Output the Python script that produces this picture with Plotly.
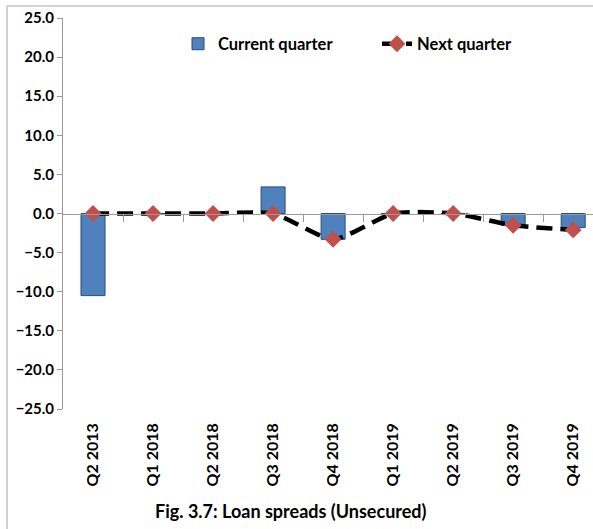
import plotly.graph_objects as go

quarters = ["Q2 2013", "Q1 2018", "Q2 2018", "Q3 2018", "Q4 2018",
            "Q1 2019", "Q2 2019", "Q3 2019", "Q4 2019"]
current_quarter = [-10.5, 0.0, 0.0, 3.4, -3.3, 0.0, 0.0, -1.5, -1.8]
next_quarter = [0.0, 0.0, 0.0, 0.0, -3.3, 0.0, 0.0, -1.5, -2.1]

FONT = "Lato"
BLACK = "#000000"
GREY = "#9A9A9A"

fig = go.Figure()
fig.add_trace(go.Bar(
    x=quarters, y=current_quarter, name="Current quarter",
    marker=dict(color="#4F81BD", line=dict(color="#2C4D75", width=1)),
    width=0.4,
))
fig.add_trace(go.Scatter(
    x=quarters, y=next_quarter, name="Next quarter", mode="lines+markers",
    xaxis="x2",
    line=dict(color=BLACK, width=4.5, dash="16px,8px", shape="spline", smoothing=0.6),
    marker=dict(symbol="diamond", size=13, color="#C0504D"),
))

# plot area pixels: x 63..593, y 18..409
def px_x(p):
    return (p - 63) / 530

def px_y(p):
    return (409 - p) / 391

fig.update_layout(
    width=593, height=529,
    margin=dict(l=63, r=0, t=18, b=120),
    paper_bgcolor="white", plot_bgcolor="white",
    font=dict(family=FONT, size=14, color=BLACK),
    showlegend=True,
    legend=dict(orientation="h", x=px_x(178), y=px_y(44), xanchor="left", yanchor="middle",
                font=dict(family=FONT, size=16.5, color=BLACK, weight="bold"),
                entrywidth=154, entrywidthmode="pixels",
                bgcolor="rgba(0,0,0,0)", traceorder="normal"),
    xaxis=dict(
        type="category", categoryarray=quarters, range=[-0.5, 8.33],
        showline=False, ticks="", showgrid=False, zeroline=False, tickangle=-90,
        ticklabelstandoff=10,
        tickfont=dict(family=FONT, size=16, color=BLACK, weight="bold"),
    ),
    xaxis2=dict(
        type="category", categoryarray=quarters, overlaying="x", anchor="free",
        position=0.5, range=[-0.5, 8.33],
        tickmode="array", tickvals=[i + 0.5 for i in range(8)],
        showticklabels=False, ticks="outside", ticklen=7, tickwidth=1, tickcolor=GREY,
        showline=True, linecolor=GREY, linewidth=1, showgrid=False, zeroline=False,
    ),
    yaxis=dict(
        range=[-25, 25], dtick=5, tickformat=".1f", ticks="outside", ticklen=5,
        tickcolor=GREY, showline=True, linecolor=GREY, linewidth=1,
        showgrid=False, zeroline=False,
        tickfont=dict(family=FONT, size=15, color=BLACK, weight="bold"),
    ),
    shapes=[
        dict(type="line", xref="paper", yref="paper", x0=px_x(7), x1=px_x(593),
             y0=px_y(6), y1=px_y(6), line=dict(color="#A6A6A6", width=1)),
        dict(type="line", xref="paper", yref="paper", x0=px_x(7), x1=px_x(7),
             y0=px_y(6), y1=px_y(529), line=dict(color="#A6A6A6", width=1)),
    ],
    annotations=[
        dict(text="Fig. 3.7: Loan spreads (Unsecured)", xref="paper", yref="paper",
             x=px_x(291), y=px_y(511), xanchor="center", yanchor="middle",
             showarrow=False, font=dict(family=FONT, size=18, color=BLACK, weight="bold")),
    ],
)

fig.write_html("out.html", config={"displayModeBar": False},
               post_script="document.body.style.margin='0';")
